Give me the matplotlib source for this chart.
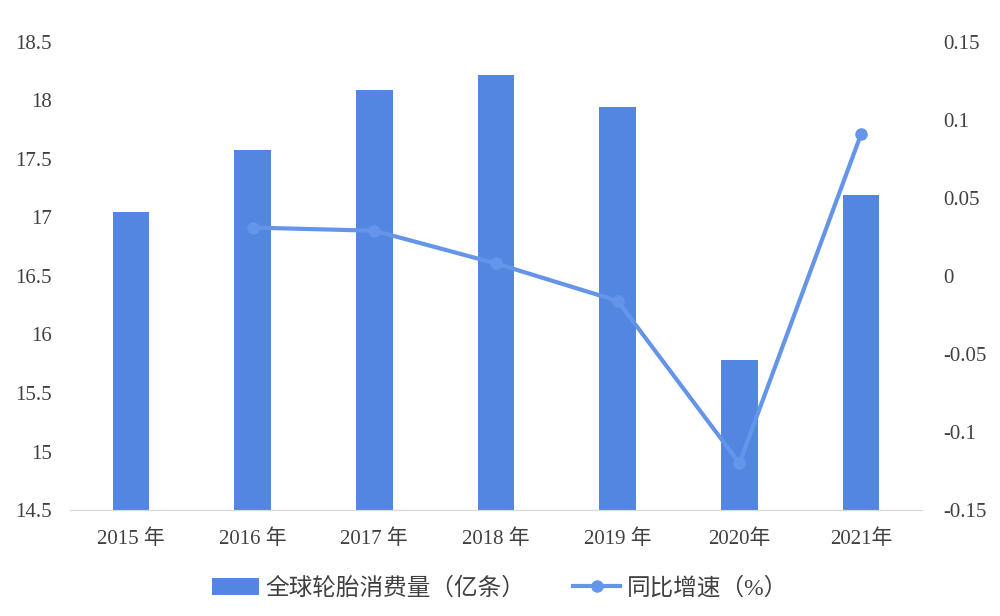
import numpy as np
import matplotlib.pyplot as plt

plt.rcParams['font.family'] = ['Liberation Serif', 'Noto Sans CJK SC', 'DejaVu Sans']

# Data
years = ['2015 年', '2016 年', '2017 年', '2018 年', '2019 年', '2020年', '2021年']
consumption = [17.05, 17.58, 18.09, 18.22, 17.94, 15.78, 17.19]   # 亿条
growth_years = [1, 2, 3, 4, 5, 6]
growth = [0.031, 0.029, 0.008, -0.016, -0.120, 0.091]

bar_color = '#5286E0'
line_color = '#6495EB'
text_color = '#404040'

fig = plt.figure(figsize=(10, 6.16), dpi=100)
ax = fig.add_axes([0.07, 0.172, 0.852, 0.76])
x = np.arange(len(years))

bars = ax.bar(x, consumption, width=0.30, color=bar_color, zorder=2,
              label='全球轮胎消费量（亿条）')
ax.set_ylim(14.5, 18.5)
ax.set_yticks(np.arange(14.5, 18.51, 0.5))
ax.set_yticklabels(['14.5', '15', '15.5', '16', '16.5', '17', '17.5', '18', '18.5'])
ax.set_xlim(-0.5, len(years) - 0.5)
ax.set_xticks(x)
ax.set_xticklabels(years)

ax2 = ax.twinx()
line, = ax2.plot(growth_years, growth, color=line_color, linewidth=3,
                 marker='o', markersize=8, zorder=3, label='同比增速（%）')
ax2.set_ylim(-0.15, 0.15)
ax2.set_yticks([-0.15, -0.1, -0.05, 0, 0.05, 0.1, 0.15])
ax2.set_yticklabels(['-0.15', '-0.1', '-0.05', '0', '0.05', '0.1', '0.15'])

for a in (ax, ax2):
    for s in ('top', 'left', 'right'):
        a.spines[s].set_visible(False)
    a.spines['bottom'].set_color('#D9D9D9')
    a.tick_params(length=0, labelsize=15, colors=text_color)
ax.tick_params(axis='y', pad=13)
ax.tick_params(axis='x', pad=14)
ax2.tick_params(axis='y', pad=15)
for lbl in ax2.get_yticklabels():
    lbl.set_horizontalalignment('left')

fig.legend(handles=[bars, line], loc='lower center', bbox_to_anchor=(0.5, -0.008),
           ncol=2, frameon=False, fontsize=17, handlelength=2.0, handletextpad=0.3,
           columnspacing=2.0, labelcolor=text_color)

fig.savefig('out.png', dpi=100)
